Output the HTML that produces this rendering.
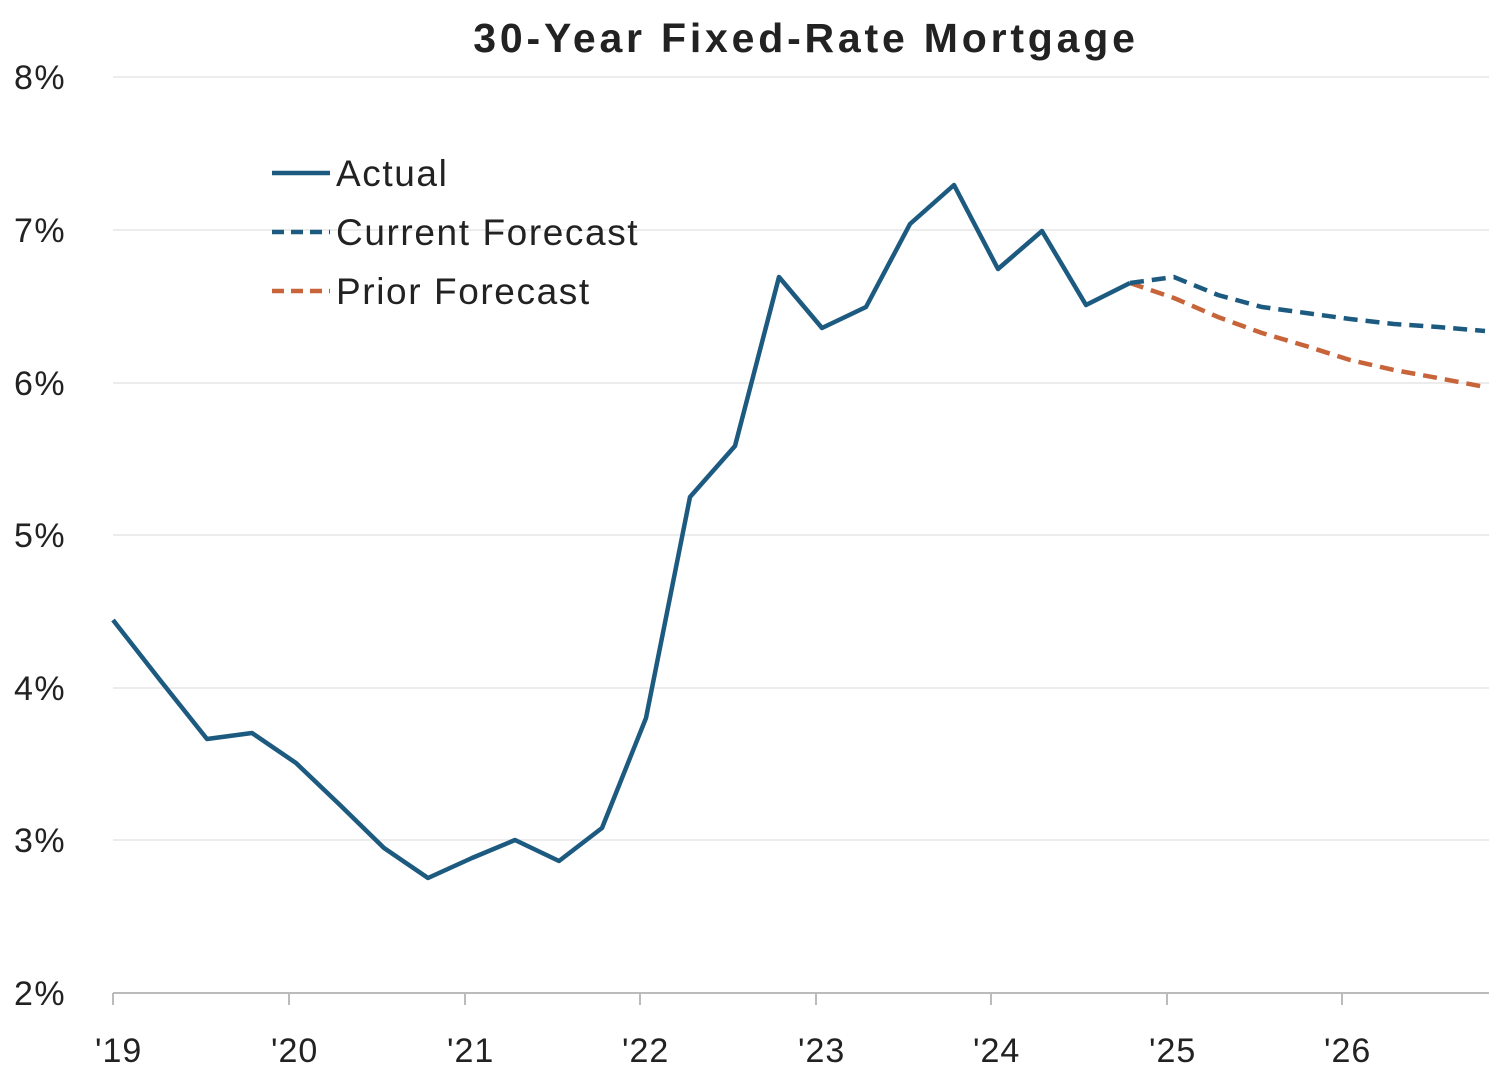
<!DOCTYPE html>
<html><head><meta charset="utf-8"><style>
html,body{margin:0;padding:0;background:#fff;}
svg{display:block;}
text{font-family:"Liberation Sans",sans-serif;fill:#222;}
</style></head><body>
<svg width="1489" height="1080" viewBox="0 0 1489 1080">
<text x="806" y="52" text-anchor="middle" font-size="41" font-weight="bold" fill="#111" letter-spacing="3.8">30-Year Fixed-Rate Mortgage</text>
<g stroke="#e6e6e6" stroke-width="1.5">
<line x1="113" y1="77" x2="1489" y2="77"/>
<line x1="113" y1="230" x2="1489" y2="230"/>
<line x1="113" y1="383" x2="1489" y2="383"/>
<line x1="113" y1="535" x2="1489" y2="535"/>
<line x1="113" y1="688" x2="1489" y2="688"/>
<line x1="113" y1="840" x2="1489" y2="840"/>
</g>
<line x1="113" y1="993" x2="1489" y2="993" stroke="#bbb" stroke-width="2"/>
<g stroke="#bbb" stroke-width="2">
<line x1="113" y1="993" x2="113" y2="1005"/><line x1="289" y1="993" x2="289" y2="1005"/>
<line x1="465" y1="993" x2="465" y2="1005"/><line x1="640" y1="993" x2="640" y2="1005"/>
<line x1="816" y1="993" x2="816" y2="1005"/><line x1="991" y1="993" x2="991" y2="1005"/>
<line x1="1167" y1="993" x2="1167" y2="1005"/><line x1="1342" y1="993" x2="1342" y2="1005"/>
</g>
<g font-size="34" text-anchor="start" letter-spacing="1.5">
<text x="14" y="89">8%</text><text x="14" y="242">7%</text><text x="14" y="395">6%</text>
<text x="14" y="547">5%</text><text x="14" y="700">4%</text><text x="14" y="852">3%</text>
<text x="14" y="1005">2%</text>
</g>
<g font-size="34" letter-spacing="1">
<text x="95" y="1062">'19</text><text x="271" y="1062">'20</text><text x="447" y="1062">'21</text>
<text x="622" y="1062">'22</text><text x="798" y="1062">'23</text><text x="973" y="1062">'24</text>
<text x="1149" y="1062">'25</text><text x="1324" y="1062">'26</text>
</g>
<polyline fill="none" stroke="#c8643a" stroke-width="4.5" stroke-dasharray="14,8" points="1130,283 1174,298 1218,317 1262,333 1306,346 1350,360 1394,370 1438,378 1485,387"/>
<polyline fill="none" stroke="#1d5a80" stroke-width="4.5" stroke-dasharray="14,8" points="1130,283 1174,277 1218,295 1262,307 1306,313 1350,319 1394,324 1438,327 1485,331"/>
<polyline fill="none" stroke="#1d5a80" stroke-width="4.5" stroke-linejoin="round" points="113,620 160,680 207,739 252,733 296,763 340,805 384,848 428,878 472,858 515,840 559,861 602,828 646,718 690,497 735,446 779,277 822,328 866,307 910,224 954,185 998,269 1042,231 1086,305 1130,283"/>
<line x1="272" y1="173" x2="330" y2="173" stroke="#1d5a80" stroke-width="4.5"/>
<line x1="272" y1="232" x2="330" y2="232" stroke="#1d5a80" stroke-width="4.5" stroke-dasharray="12,7"/>
<line x1="272" y1="291" x2="330" y2="291" stroke="#c8643a" stroke-width="4.5" stroke-dasharray="12,7"/>
<g font-size="37" letter-spacing="1.6">
<text x="336" y="186">Actual</text>
<text x="336" y="245">Current Forecast</text>
<text x="336" y="304">Prior Forecast</text>
</g>
</svg>
</body></html>
